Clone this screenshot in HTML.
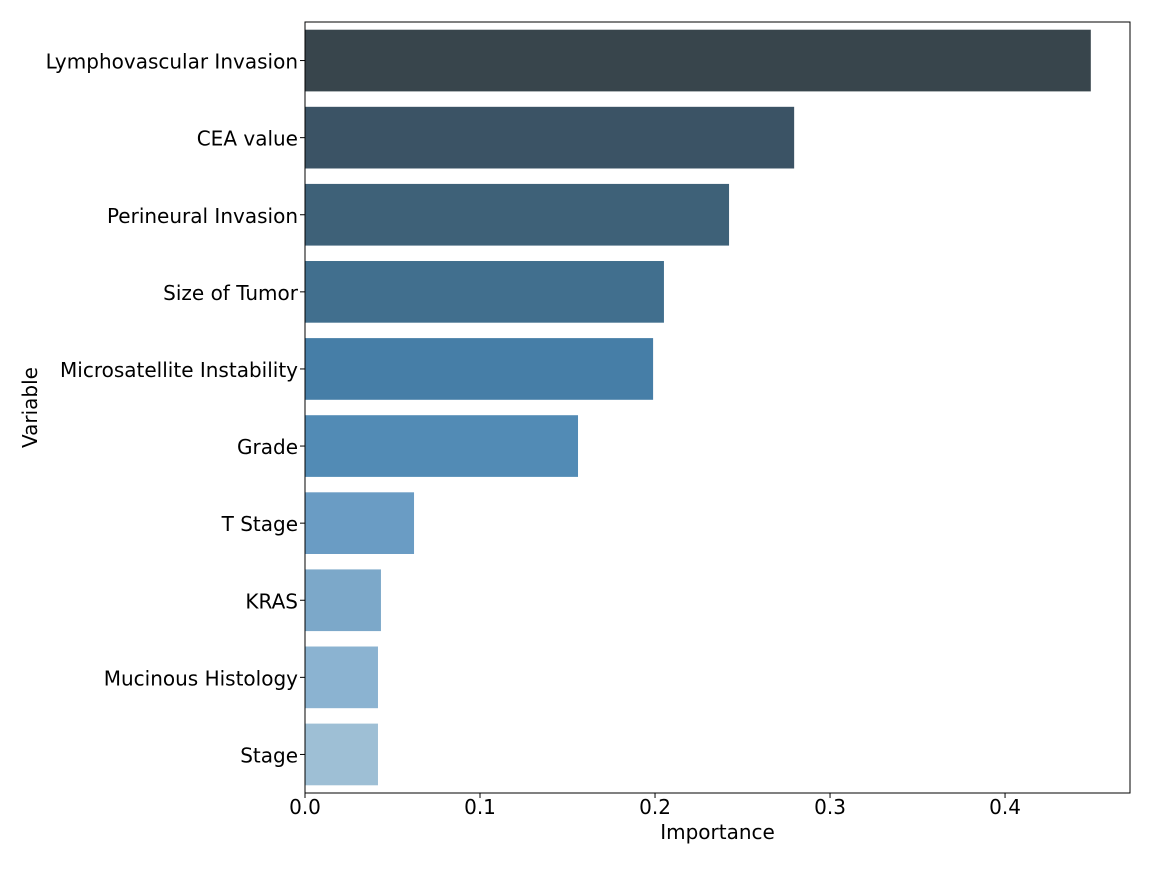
<!DOCTYPE html>
<html><head><meta charset="utf-8"><style>
html,body{margin:0;padding:0;background:#fff;}
svg text{font-family:"DejaVu Sans","Liberation Sans",sans-serif;fill:#000;}
</style></head><body>
<svg id="chart" width="1152" height="864" xmlns="http://www.w3.org/2000/svg"></svg>
<script>
const categories = ["Lymphovascular Invasion","CEA value","Perineural Invasion","Size of Tumor","Microsatellite Instability","Grade","T Stage","KRAS","Mucinous Histology","Stage"];
const importances = [0.449,0.2795,0.2423,0.2051,0.1989,0.156,0.0623,0.0434,0.0417,0.0417];
const barColors = ["#38454c","#3b5365","#3e6178","#416f8e","#467ea7","#528bb5","#6a9cc4","#7ca8c9","#8bb3d1","#9ebfd5"];
const xTicks = [0,0.1,0.2,0.3,0.4];
const xTickLabels = ["0.0","0.1","0.2","0.3","0.4"];

const svg = document.getElementById('chart');
const NS = "http://www.w3.org/2000/svg";
const L=305,R=1130,T=22,B=793,XMAX=0.4714;
const x = v => L + v/XMAX*(R-L);
const band = (B-T)/categories.length;
const yC = i => T + band*(i+0.5);
function mk(tag, attrs){const e=document.createElementNS(NS,tag);for(const k in attrs)e.setAttribute(k,attrs[k]);svg.appendChild(e);return e;}

categories.forEach((c,i)=>{
  const r = mk('rect',{x:L,y:yC(i)-band*0.4,width:x(importances[i])-L,height:band*0.8,fill:barColors[i]});
  
  
  const tk = mk('line',{x1:L-5,x2:L,y1:yC(i),y2:yC(i),stroke:'#000','stroke-width':1});
  
  
  const t = mk('text',{x:L-7,y:yC(i)+8,'text-anchor':'end','font-size':20});
  t.textContent=c;
  
  
});
xTicks.forEach((v,i)=>{
  const tk = mk('line',{x1:x(v),x2:x(v),y1:B,y2:B+5,stroke:'#000','stroke-width':1});
  
  
  const t = mk('text',{x:x(v),y:B+21,'text-anchor':'middle','font-size':20});
  t.textContent=xTickLabels[i];
  
  
});
const frame = mk('rect',{x:L,y:T,width:R-L,height:B-T,fill:'none',stroke:'#000','stroke-width':1});


const xt = mk('text',{x:(L+R)/2,y:839,'text-anchor':'middle','font-size':20});
xt.textContent='Importance';


const yt = mk('text',{x:37,y:(T+B)/2,'text-anchor':'middle','font-size':20,transform:`rotate(-90 37 ${(T+B)/2})`});
yt.textContent='Variable';


</script>
</body></html>
